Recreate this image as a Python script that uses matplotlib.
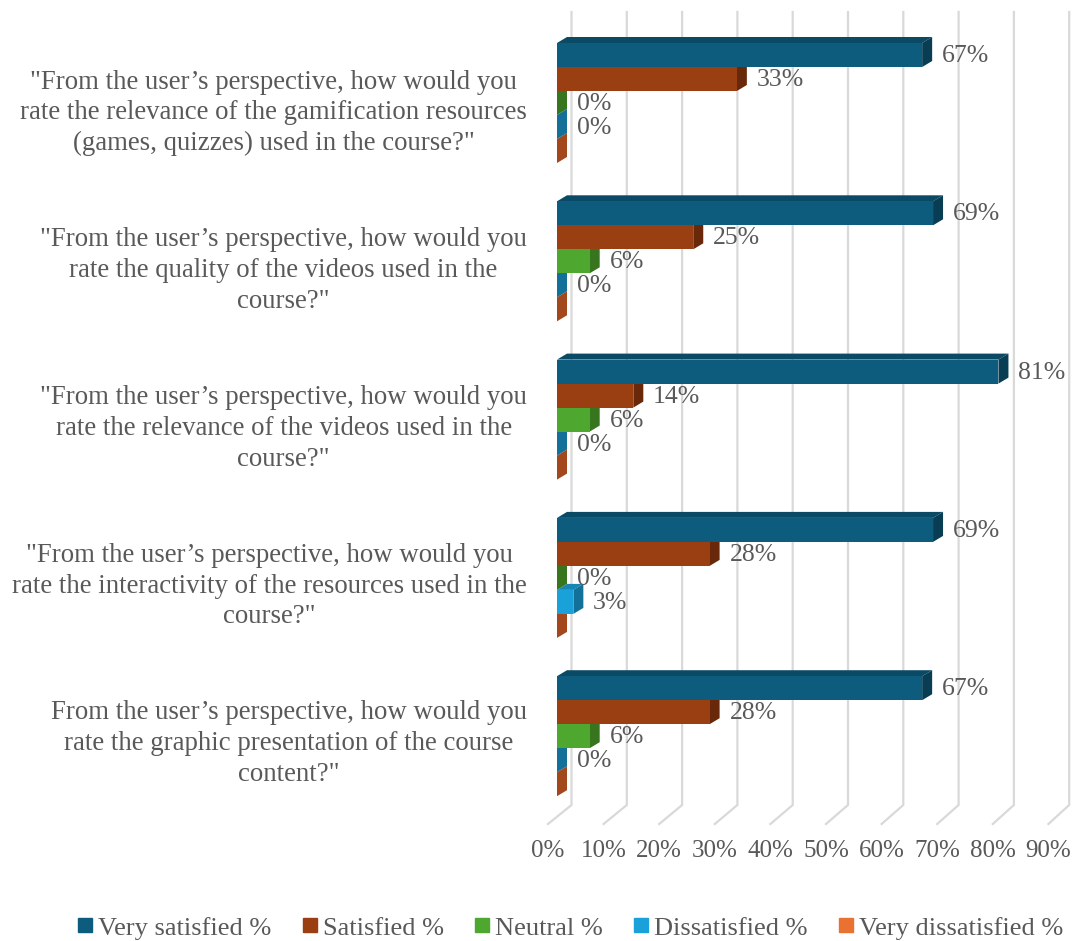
import matplotlib
matplotlib.use('Agg')
import matplotlib.pyplot as plt
from matplotlib.patches import Polygon
from matplotlib.lines import Line2D

plt.rcParams['font.family'] = ['Liberation Serif', 'DejaVu Serif']

questions = [
    '"From the user\u2019s perspective, how would you\nrate the relevance of the gamification resources\n(games, quizzes) used in the course?"',
    '"From the user\u2019s perspective, how would you\nrate the quality of the videos used in the\ncourse?"',
    '"From the user\u2019s perspective, how would you\nrate the relevance of the videos used in the\ncourse?"',
    '"From the user\u2019s perspective, how would you\nrate the interactivity of the resources used in the\ncourse?"',
    'From the user\u2019s perspective, how would you\nrate the graphic presentation of the course\ncontent?"',
]
series = ['Very satisfied %', 'Satisfied %', 'Neutral %', 'Dissatisfied %', 'Very dissatisfied %']
very_satisfied = [67, 69, 81, 69, 67]
satisfied = [33, 25, 14, 28, 28]
neutral = [0, 6, 6, 0, 6]
dissatisfied = [0, 0, 0, 3, 0]
very_dissatisfied = [0, 0, 0, 0, 0]
values = [very_satisfied, satisfied, neutral, dissatisfied, very_dissatisfied]
show_label = [True, True, True, True, False]
ticks = [0, 10, 20, 30, 40, 50, 60, 70, 80, 90]

front_colors = ['#0e5c7d', '#9a3f11', '#4ea72e', '#1ba1d9', '#e97132']
top_colors = ['#0b4a65', '#7e320c', '#418b26', '#1786b5', '#c45c26']
side_colors = ['#083d53', '#682809', '#37761f', '#127099', '#a3481c']
text_color = '#595959'
grid_color = '#d9d9d9'

fig = plt.figure(figsize=(10.75, 9.41), dpi=100)
ax = fig.add_axes([0, 0, 1, 1])
PX = 5.45          # pixels per percent on the bar plane
X0 = 557           # pixel column of 0% on the bar front
ax.set_xlim(-X0 / PX, (1075 - X0) / PX)
ax.set_ylim(941, 0)
ax.axis('off')

# depth of the bars
ddx, ddy = 10 / PX, -6
bar_h = 24
group_pitch = 158.3
first_top = 43

# back wall gridlines with floor diagonal
for t in ticks:
    xb = (14.5 + t * 5.53) / PX
    xf = (-9 + t * 5.56) / PX
    ax.plot([xb, xb, xf], [12, 805, 824], color=grid_color, lw=1.6, zorder=1,
            solid_joinstyle='miter')
    ax.text(xf, 851, f'{t}%', ha='center', va='center', fontsize=18, color=text_color)

for g in range(len(questions)):
    gtop = first_top + g * group_pitch
    for s in reversed(range(len(series))):
        v = values[s][g]
        y0 = gtop + s * bar_h
        z = 2 + (len(series) - s) * 0.1
        ax.add_patch(Polygon([(0, y0), (v, y0), (v + ddx, y0 + ddy), (ddx, y0 + ddy)],
                             closed=True, facecolor=top_colors[s], edgecolor='none', zorder=z))
        ax.add_patch(Polygon([(v, y0), (v + ddx, y0 + ddy), (v + ddx, y0 + bar_h + ddy), (v, y0 + bar_h)],
                             closed=True, facecolor=side_colors[s], edgecolor='none', zorder=z))
        ax.barh(y0 + bar_h / 2, v, height=bar_h, left=0, color=front_colors[s], zorder=z)
        if show_label[s]:
            ax.text(v + ddx + 1.8, y0 + bar_h / 2 + 1, f'{v}%', ha='left', va='center',
                    fontsize=18.5, color=text_color, zorder=5)
    ax.text((527 - X0) / PX, 113 + g * 157.7, questions[g], ha='right', va='center',
            multialignment='center', linespacing=1.31, fontsize=19.3, color=text_color)

handles = [Line2D([], [], marker='s', ls='', color=c, markersize=9.5) for c in front_colors]
fig.legend(handles, series, loc='center', bbox_to_anchor=(0.528, 0.014), ncol=5, frameon=False,
           fontsize=19, handletextpad=0.0, columnspacing=0.95, labelcolor=text_color,
           handlelength=1.0)

fig.savefig('out.png', dpi=100)
